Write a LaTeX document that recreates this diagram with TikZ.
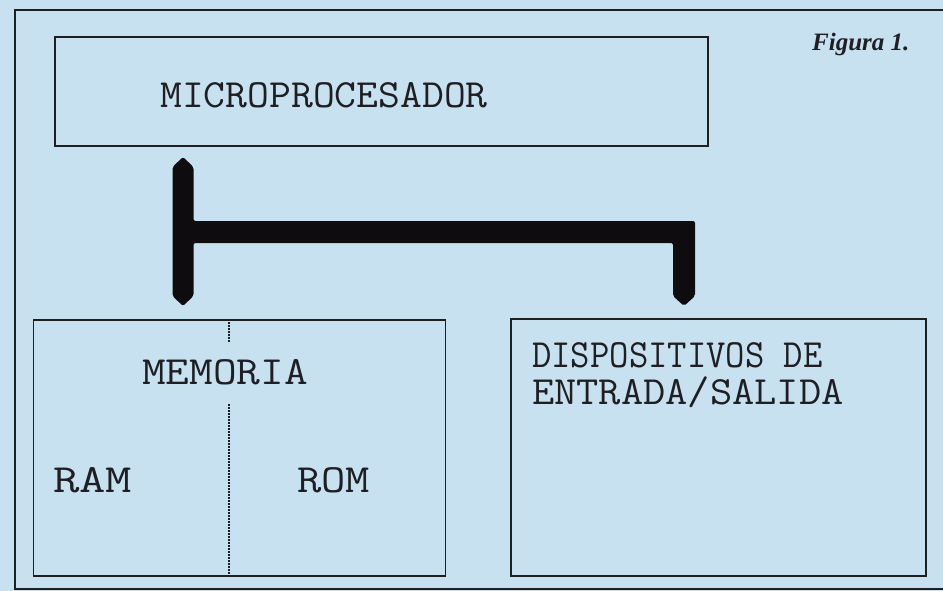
\documentclass[tikz,border=0pt]{standalone}
\usepackage{fontspec}
\usetikzlibrary{calc}
\setmainfont{Liberation Serif}
\definecolor{paper}{RGB}{200,225,240}
\definecolor{ink}{RGB}{30,30,35}
\definecolor{busc}{RGB}{15,12,15}
\newcommand{\wide}[2]{\scalebox{#1}[1]{#2}}
\begin{document}
\begin{tikzpicture}[x=1pt,y=-1pt,
  box/.style={draw=ink, line width=1.6pt, inner sep=0pt},
  lbl/.style={font=\ttfamily\fontsize{40}{44}\selectfont, text=ink, inner sep=0pt},
  divider/.style={draw=ink, line width=2pt, dash pattern=on 1.6pt off 1.4pt}]
\useasboundingbox (0,0) rectangle (943,591);
\fill[paper] (0,0) rectangle (943,591);
% outer frame (no right side)
\draw[ink, line width=2.4pt] (943,10) -- (15,10) -- (15,589) -- (943,589);
% boxes
\node[box, minimum width=653pt, minimum height=109pt] (micro) at (381.5,91.5) {};
\node[box, minimum width=412pt, minimum height=256pt] (mem) at (239.5,448) {};
\node[box, minimum width=415pt, minimum height=257pt] (io) at (718.5,447.5) {};
% labels
\node[lbl, anchor=west] (tmicro) at (160,95) {\wide{1.06}{MICROPROCESADOR}};
\node[lbl, anchor=west] (tmem) at (142,372) {\wide{1.15}{MEMORIA}};
\node[lbl, anchor=west] (tram) at (53,480) {\wide{1.28}{RAM}};
\node[lbl, anchor=west] (trom) at (297,480) {\wide{1.18}{ROM}};
\node[lbl, anchor=west] (tio1) at (532,355) {\wide{0.94}{DISPOSITIVOS DE}};
\node[lbl, anchor=west] (tio2) at (532,392) {\wide{1.08}{ENTRADA/SALIDA}};
\node[font=\bfseries\itshape\fontsize{25}{30}\selectfont, text=ink, anchor=west, inner sep=0pt] (fig) at (812,44) {Figura 1.};
% memory divider
\coordinate (dtop) at (mem.north);
\draw[divider] ($(dtop)+(-11,0)$) -- ++(0,23);
\draw[divider] ($(dtop)+(-11,85)$) -- ($(mem.south)+(-11,0)$);
% bus
\coordinate (busA) at (183,157);
\coordinate (busB) at (183,306);
\coordinate (busC) at (684,306);
\fill[busc, rounded corners=2pt]
  (busA) -- ++(10.5,10) -- (193.5,221) -- (695,221) -- (695,296) -- (busC)
  -- (673,296) -- (673,243) -- (193.5,243) -- (193.5,296) -- (busB)
  -- (172.5,296) -- (172.5,167) -- cycle;
\end{tikzpicture}
\end{document}
